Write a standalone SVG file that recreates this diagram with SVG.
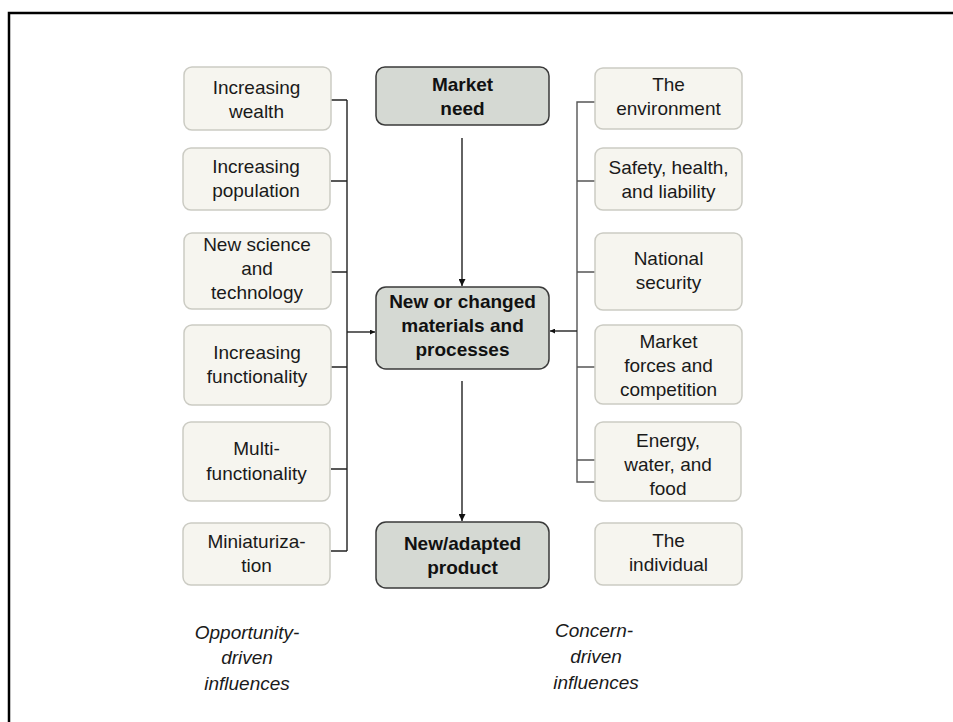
<svg xmlns="http://www.w3.org/2000/svg" width="953" height="722" viewBox="0 0 953 722">
<style>
text{font-family:"Liberation Sans",Arial,sans-serif;font-size:19px;fill:#1a1a1a;text-anchor:middle}
.b{font-weight:bold;fill:#111}
.it{font-style:italic}
.outer{fill:#f6f5ef;stroke:#cbcbc3;stroke-width:1.5}
.center{fill:#d5d9d3;stroke:#3a3a3a;stroke-width:1.5}
.ln{fill:none;stroke:#222;stroke-width:1.4}
.lnr{fill:none;stroke:#555;stroke-width:1.4}
</style>
<defs>
<marker id="ah" viewBox="0 0 10 10" refX="10" refY="5" markerWidth="7" markerHeight="7" markerUnits="userSpaceOnUse" orient="auto">
<path d="M0,0 L10,5 L0,10 z" fill="#111"/>
</marker>
<marker id="ahs" viewBox="0 0 10 10" refX="10" refY="5" markerWidth="5" markerHeight="5" markerUnits="userSpaceOnUse" orient="auto">
<path d="M0,0 L10,5 L0,10 z" fill="#111"/>
</marker>
</defs>
<rect x="0" y="0" width="953" height="722" fill="#fff"/>
<rect id="frame" x="9" y="13" width="960" height="730" fill="none" stroke="#000" stroke-width="2.5"/>

<g id="connectors">
<path class="ln" d="M331,100 H347 M331,181 H347 M331,272 H347 M331,367 H347 M331,469 H347 M331,551 H347 M347,100 V551"/>
<path class="ln" d="M347,332 H375" marker-end="url(#ahs)"/>
<path class="lnr" d="M595,102 H577 V482 H595 M577,181 H595 M577,272 H595 M577,367 H595 M577,460 H595"/>
<path class="ln" d="M577,331 H550" marker-end="url(#ahs)"/>
<path class="ln" d="M462,138 V286" marker-end="url(#ah)"/>
<path class="ln" d="M462,381 V521" marker-end="url(#ah)"/>
</g>

<g id="increasing-wealth"><rect class="outer" x="184" y="67" width="147" height="63" rx="8"/>
<text x="256.5" y="94">Increasing</text><text x="256.5" y="118">wealth</text></g>
<g id="increasing-population"><rect class="outer" x="183" y="148" width="147" height="62" rx="8"/>
<text x="256" y="173">Increasing</text><text x="256" y="197">population</text></g>
<g id="new-science"><rect class="outer" x="184" y="233" width="147" height="76" rx="8"/>
<text x="257" y="251">New science</text><text x="257" y="275">and</text><text x="257" y="299">technology</text></g>
<g id="increasing-functionality"><rect class="outer" x="184" y="325" width="147" height="80" rx="8"/>
<text x="257" y="359">Increasing</text><text x="257" y="383">functionality</text></g>
<g id="multi-functionality"><rect class="outer" x="183" y="422" width="147" height="79" rx="8"/>
<text x="256.5" y="455">Multi-</text><text x="256.5" y="480">functionality</text></g>
<g id="miniaturization"><rect class="outer" x="183" y="523" width="147" height="62" rx="8"/>
<text x="256.5" y="548">Miniaturiza-</text><text x="256.5" y="572">tion</text></g>

<g id="market-need"><rect class="center" x="376" y="67" width="173" height="58" rx="9"/>
<text class="b" x="462.5" y="91">Market</text><text class="b" x="462.5" y="115">need</text></g>
<g id="new-materials"><rect class="center" x="376" y="287" width="173" height="82" rx="10"/>
<text class="b" x="462.5" y="308">New or changed</text><text class="b" x="462.5" y="332">materials and</text><text class="b" x="462.5" y="356">processes</text></g>
<g id="new-product"><rect class="center" x="376" y="522" width="173" height="66" rx="10"/>
<text class="b" x="462.5" y="550">New/adapted</text><text class="b" x="462.5" y="574">product</text></g>

<g id="environment"><rect class="outer" x="595" y="68" width="147" height="61" rx="8"/>
<text x="668.5" y="91">The</text><text x="668.5" y="115">environment</text></g>
<g id="safety"><rect class="outer" x="595" y="148" width="147" height="62" rx="8"/>
<text x="668.5" y="174">Safety, health,</text><text x="668.5" y="198">and liability</text></g>
<g id="national-security"><rect class="outer" x="595" y="233" width="147" height="77" rx="8"/>
<text x="668.5" y="265">National</text><text x="668.5" y="289">security</text></g>
<g id="market-forces"><rect class="outer" x="595" y="325" width="147" height="79" rx="8"/>
<text x="668.5" y="348">Market</text><text x="668.5" y="372">forces and</text><text x="668.5" y="396">competition</text></g>
<g id="energy"><rect class="outer" x="595" y="422" width="146" height="79" rx="8"/>
<text x="668" y="447">Energy,</text><text x="668" y="471">water, and</text><text x="668" y="495">food</text></g>
<g id="individual"><rect class="outer" x="595" y="523" width="147" height="62" rx="8"/>
<text x="668.5" y="547">The</text><text x="668.5" y="571">individual</text></g>

<g id="opportunity-label"><text class="it" x="247" y="639">Opportunity-</text><text class="it" x="247" y="664">driven</text><text class="it" x="247" y="690">influences</text></g>
<g id="concern-label"><text class="it" x="594" y="637">Concern-</text><text class="it" x="596" y="663">driven</text><text class="it" x="596" y="689">influences</text></g>
</svg>
